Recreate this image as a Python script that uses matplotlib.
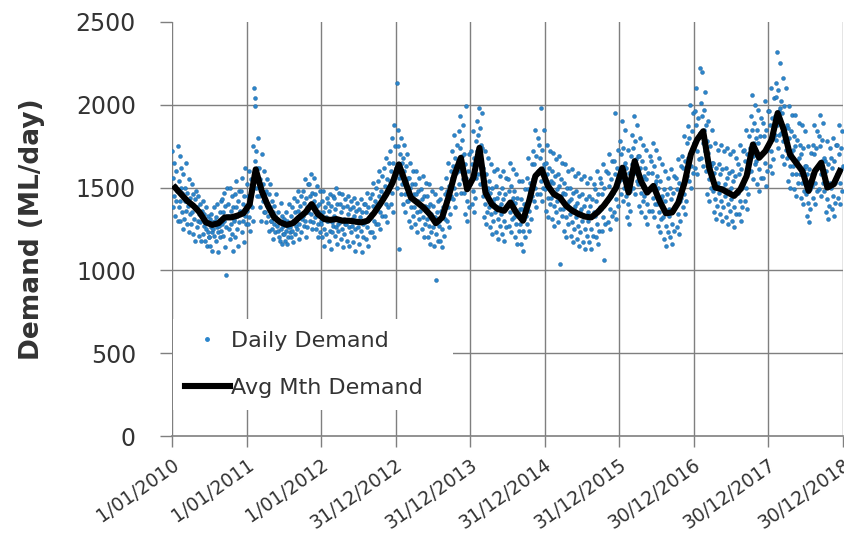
import calendar
import datetime as dt
import matplotlib
matplotlib.use("Agg")
import matplotlib.pyplot as plt
from matplotlib.lines import Line2D

plt.rcParams['font.family'] = ['DejaVu Sans']

# ---------------- data ----------------
start_year = 2010

# Average monthly demand (ML/day), Jan 2010 .. Dec 2018
monthly_avg = [
    1500, 1460, 1420, 1390, 1350, 1290, 1275, 1285, 1320, 1320, 1330, 1345,   # 2010
    1400, 1610, 1480, 1390, 1320, 1290, 1275, 1285, 1320, 1350, 1400, 1340,   # 2011
    1310, 1305, 1310, 1300, 1300, 1295, 1290, 1300, 1345, 1400, 1460, 1530,   # 2012
    1640, 1540, 1440, 1410, 1380, 1340, 1285, 1320, 1440, 1580, 1680, 1490,   # 2013
    1560, 1740, 1470, 1400, 1370, 1360, 1410, 1345, 1300, 1420, 1570, 1610,   # 2014
    1510, 1460, 1440, 1390, 1360, 1340, 1325, 1320, 1350, 1390, 1440, 1500,   # 2015
    1620, 1470, 1660, 1540, 1470, 1510, 1420, 1345, 1350, 1410, 1530, 1700,   # 2016
    1790, 1840, 1620, 1500, 1490, 1470, 1450, 1490, 1570, 1760, 1680, 1720,   # 2017
    1790, 1950, 1850, 1700, 1650, 1600, 1480, 1600, 1650, 1500, 1520, 1600,   # 2018
]

# Daily demand samples (12 readings per month, spread through the month)
daily_2010 = [
    1720, 1380, 1560, 1450, 1650, 1330, 1510, 1600, 1420, 1480, 1750, 1300,
    1540, 1380, 1690, 1420, 1300, 1500, 1620, 1350, 1470, 1250, 1580, 1440,
    1310, 1500, 1420, 1650, 1360, 1280, 1470, 1390, 1550, 1230, 1440, 1340,
    1400, 1280, 1520, 1350, 1460, 1220, 1390, 1310, 1430, 1180, 1370, 1480,
    1260, 1380, 1300, 1450, 1210, 1340, 1400, 1290, 1180, 1360, 1320, 1420,
    1220, 1340, 1270, 1180, 1310, 1250, 1380, 1150, 1290, 1230, 1330, 1200,
    1200, 1310, 1150, 1260, 1340, 1230, 1120, 1290, 1250, 1380, 1210, 1300,
    1320, 1180, 1260, 1400, 1230, 1110, 1300, 1270, 1350, 1200, 1420, 1240,
    1280, 1430, 1350, 1210, 1470, 1300, 1140, 1390, 1260, 970, 1330, 1500,
    1400, 1250, 1330, 1500, 1190, 1360, 1280, 1450, 1220, 1380, 1120, 1310,
    1300, 1460, 1200, 1380, 1540, 1250, 1330, 1420, 1150, 1290, 1480, 1360,
    1350, 1480, 1230, 1560, 1300, 1400, 1170, 1450, 1330, 1620, 1280, 1380,
]
daily_2011 = [
    1360, 1520, 1280, 1450, 1600, 1320, 1400, 1240, 1550, 1380, 1480, 1300,
    1750, 2100, 1580, 2040, 1660, 1990, 1500, 1720, 1620, 1450, 1800, 1560,
    1450, 1620, 1380, 1550, 1300, 1480, 1700, 1420, 1520, 1350, 1600, 1470,
    1350, 1480, 1290, 1410, 1550, 1330, 1400, 1240, 1460, 1380, 1520, 1300,
    1300, 1250, 1420, 1350, 1190, 1280, 1390, 1330, 1230, 1460, 1310, 1270,
    1240, 1350, 1200, 1300, 1180, 1290, 1410, 1250, 1160, 1330, 1270, 1220,
    1220, 1310, 1180, 1280, 1350, 1240, 1160, 1300, 1260, 1200, 1400, 1230,
    1260, 1330, 1200, 1380, 1240, 1300, 1170, 1290, 1440, 1220, 1350, 1270,
    1300, 1420, 1250, 1360, 1480, 1280, 1190, 1390, 1330, 1230, 1450, 1310,
    1330, 1480, 1270, 1410, 1550, 1300, 1200, 1440, 1380, 1260, 1520, 1350,
    1380, 1520, 1300, 1450, 1580, 1340, 1250, 1470, 1400, 1290, 1560, 1420,
    1320, 1460, 1250, 1390, 1510, 1280, 1200, 1400, 1350, 1230, 1480, 1300,
]
daily_2012 = [
    1280, 1420, 1200, 1350, 1480, 1250, 1150, 1380, 1320, 1220, 1440, 1300,
    1300, 1410, 1180, 1360, 1460, 1240, 1130, 1390, 1290, 1230, 1450, 1270,
    1330, 1440, 1210, 1370, 1500, 1260, 1160, 1400, 1280, 1240, 1470, 1310,
    1290, 1400, 1190, 1350, 1460, 1250, 1140, 1380, 1310, 1220, 1430, 1280,
    1280, 1390, 1180, 1340, 1450, 1260, 1150, 1370, 1300, 1230, 1420, 1310,
    1270, 1380, 1170, 1330, 1440, 1250, 1120, 1360, 1290, 1210, 1410, 1300,
    1260, 1370, 1160, 1320, 1430, 1240, 1110, 1350, 1280, 1200, 1400, 1290,
    1290, 1400, 1190, 1350, 1470, 1260, 1150, 1380, 1310, 1230, 1440, 1320,
    1340, 1460, 1230, 1390, 1530, 1300, 1200, 1420, 1360, 1280, 1500, 1370,
    1400, 1540, 1280, 1450, 1600, 1350, 1250, 1480, 1420, 1330, 1570, 1430,
    1460, 1620, 1330, 1510, 1680, 1400, 1290, 1550, 1480, 1380, 1650, 1490,
    1540, 1720, 1400, 1600, 1800, 1470, 1350, 1650, 1560, 1880, 1750, 1590,
]
daily_2013 = [
    1620, 2130, 1500, 1750, 1850, 1560, 1130, 1700, 1580, 1460, 1800, 1650,
    1520, 1680, 1400, 1600, 1760, 1460, 1350, 1630, 1540, 1420, 1700, 1560,
    1420, 1560, 1300, 1500, 1650, 1380, 1260, 1520, 1440, 1330, 1600, 1460,
    1380, 1520, 1280, 1460, 1600, 1350, 1230, 1480, 1420, 1310, 1560, 1400,
    1360, 1490, 1250, 1430, 1570, 1320, 1200, 1450, 1390, 1280, 1530, 1380,
    1310, 1450, 1200, 1380, 1520, 1270, 1160, 1400, 1340, 1230, 1480, 1330,
    1260, 1390, 1150, 1320, 1460, 1220, 940, 1350, 1290, 1180, 1420, 1270,
    1300, 1430, 1180, 1360, 1500, 1250, 1140, 1380, 1320, 1210, 1460, 1310,
    1420, 1560, 1300, 1480, 1650, 1380, 1260, 1510, 1440, 1340, 1600, 1450,
    1560, 1720, 1430, 1630, 1820, 1500, 1380, 1680, 1590, 1460, 1760, 1600,
    1660, 1840, 1520, 1740, 1930, 1600, 1470, 1790, 1690, 1550, 1880, 1700,
    1470, 1640, 1340, 1560, 1990, 1420, 1300, 1600, 1500, 1380, 1700, 1520,
]
daily_2014 = [
    1540, 1720, 1400, 1640, 1840, 1480, 1350, 1680, 1580, 1440, 1780, 1560,
    1720, 1900, 1580, 1820, 1980, 1660, 1520, 1860, 1760, 1620, 1950, 1740,
    1450, 1620, 1320, 1540, 1720, 1400, 1280, 1580, 1480, 1350, 1680, 1500,
    1380, 1540, 1260, 1470, 1640, 1340, 1220, 1500, 1410, 1300, 1600, 1430,
    1350, 1510, 1230, 1440, 1610, 1310, 1190, 1470, 1380, 1270, 1570, 1400,
    1340, 1500, 1220, 1430, 1600, 1300, 1180, 1460, 1370, 1260, 1560, 1390,
    1390, 1550, 1270, 1480, 1650, 1350, 1230, 1510, 1420, 1310, 1610, 1440,
    1320, 1480, 1200, 1410, 1580, 1280, 1160, 1440, 1350, 1240, 1540, 1370,
    1280, 1430, 1160, 1370, 1540, 1240, 1120, 1400, 1310, 1200, 1490, 1330,
    1400, 1560, 1280, 1490, 1680, 1360, 1240, 1530, 1430, 1310, 1640, 1450,
    1550, 1720, 1420, 1640, 1850, 1500, 1380, 1690, 1580, 1460, 1800, 1600,
    1590, 1760, 1460, 1680, 1980, 1540, 1420, 1730, 1620, 1500, 1850, 1640,
]
daily_2015 = [
    1490, 1650, 1360, 1580, 1760, 1440, 1320, 1620, 1520, 1400, 1720, 1540,
    1440, 1600, 1310, 1530, 1710, 1390, 1270, 1570, 1470, 1350, 1670, 1490,
    1420, 1580, 1290, 1510, 1690, 1370, 1040, 1550, 1450, 1330, 1650, 1470,
    1370, 1530, 1240, 1460, 1640, 1320, 1200, 1500, 1400, 1280, 1600, 1420,
    1340, 1500, 1210, 1430, 1610, 1290, 1170, 1470, 1370, 1250, 1570, 1390,
    1320, 1480, 1190, 1410, 1590, 1270, 1150, 1450, 1350, 1230, 1550, 1370,
    1300, 1460, 1170, 1390, 1570, 1250, 1130, 1430, 1330, 1210, 1530, 1350,
    1300, 1450, 1170, 1390, 1560, 1250, 1130, 1430, 1330, 1210, 1520, 1350,
    1330, 1490, 1200, 1420, 1600, 1280, 1160, 1460, 1360, 1240, 1560, 1380,
    1370, 1530, 1240, 1460, 1640, 1320, 1060, 1500, 1400, 1280, 1600, 1420,
    1420, 1590, 1290, 1510, 1700, 1370, 1250, 1550, 1450, 1330, 1660, 1470,
    1480, 1660, 1350, 1580, 1950, 1430, 1310, 1620, 1510, 1390, 1730, 1540,
]
daily_2016 = [
    1600, 1780, 1460, 1700, 1900, 1550, 1420, 1740, 1630, 1500, 1850, 1650,
    1450, 1620, 1320, 1550, 1730, 1400, 1280, 1590, 1480, 1360, 1690, 1500,
    1640, 1820, 1500, 1740, 1930, 1590, 1460, 1780, 1670, 1540, 1880, 1690,
    1520, 1690, 1390, 1620, 1800, 1470, 1350, 1660, 1550, 1420, 1760, 1570,
    1450, 1620, 1320, 1550, 1730, 1400, 1280, 1590, 1480, 1360, 1690, 1500,
    1490, 1660, 1360, 1590, 1770, 1440, 1320, 1630, 1520, 1400, 1730, 1540,
    1400, 1570, 1270, 1500, 1680, 1350, 1230, 1540, 1430, 1310, 1640, 1450,
    1320, 1490, 1190, 1420, 1600, 1270, 1150, 1460, 1350, 1230, 1560, 1370,
    1330, 1500, 1200, 1430, 1610, 1280, 1160, 1470, 1360, 1240, 1570, 1380,
    1390, 1560, 1260, 1490, 1670, 1340, 1220, 1530, 1420, 1300, 1630, 1440,
    1510, 1690, 1380, 1620, 1810, 1460, 1340, 1660, 1550, 1420, 1770, 1570,
    1680, 1870, 1540, 1800, 2000, 1630, 1500, 1840, 1720, 1590, 1950, 1740,
]
daily_2017 = [
    1770, 1960, 1620, 1880, 2100, 1720, 1580, 1920, 1800, 1670, 2220, 1830,
    1820, 2010, 1680, 1930, 2200, 1770, 1630, 1970, 1850, 1720, 2080, 1880,
    1600, 1780, 1460, 1710, 1900, 1550, 1420, 1750, 1630, 1500, 1850, 1650,
    1480, 1650, 1350, 1590, 1770, 1430, 1310, 1620, 1510, 1390, 1730, 1530,
    1470, 1640, 1340, 1580, 1760, 1420, 1300, 1610, 1500, 1380, 1720, 1520,
    1450, 1620, 1320, 1560, 1740, 1400, 1280, 1590, 1480, 1360, 1700, 1500,
    1430, 1600, 1300, 1540, 1720, 1380, 1260, 1570, 1460, 1340, 1680, 1480,
    1470, 1640, 1340, 1580, 1760, 1420, 1300, 1610, 1500, 1380, 1720, 1520,
    1550, 1730, 1420, 1660, 1850, 1500, 1370, 1700, 1590, 1460, 1810, 1600,
    1740, 1930, 1600, 1850, 2060, 1690, 1550, 1890, 1770, 1640, 2000, 1800,
    1660, 1850, 1520, 1770, 1970, 1610, 1480, 1810, 1690, 1560, 1920, 1710,
    1700, 1890, 1560, 1810, 2020, 1650, 1510, 1850, 1730, 1600, 1960, 1750,
]
daily_2018 = [
    1770, 1960, 1630, 1880, 2100, 1720, 1590, 1920, 1800, 1670, 2040, 1820,
    1930, 2130, 1790, 2050, 2320, 1880, 1740, 2090, 1960, 1820, 2250, 1980,
    1830, 2020, 1690, 1950, 2160, 1780, 1640, 1990, 1860, 1730, 2100, 1880,
    1680, 1860, 1540, 1800, 1990, 1630, 1500, 1840, 1710, 1580, 1940, 1730,
    1630, 1810, 1490, 1750, 1940, 1580, 1450, 1790, 1660, 1530, 1890, 1680,
    1580, 1760, 1440, 1700, 1880, 1530, 1400, 1740, 1610, 1480, 1840, 1630,
    1460, 1630, 1330, 1580, 1750, 1410, 1290, 1610, 1490, 1370, 1710, 1510,
    1580, 1760, 1440, 1700, 1880, 1530, 1400, 1740, 1610, 1480, 1840, 1630,
    1630, 1810, 1490, 1750, 1940, 1580, 1450, 1790, 1660, 1530, 1890, 1680,
    1480, 1660, 1350, 1600, 1780, 1430, 1310, 1640, 1510, 1390, 1740, 1530,
    1500, 1680, 1370, 1620, 1800, 1450, 1330, 1660, 1530, 1410, 1760, 1550,
    1580, 1760, 1440, 1700, 1880, 1530, 1400, 1740, 1610, 1480, 1840, 1630,
]
daily_by_year = [daily_2010, daily_2011, daily_2012, daily_2013, daily_2014,
                 daily_2015, daily_2016, daily_2017, daily_2018]

tick_dates = ["2010-01-01", "2011-01-01", "2012-01-01", "2012-12-31", "2013-12-31",
              "2014-12-31", "2015-12-31", "2016-12-30", "2017-12-30", "2018-12-30"]
tick_labels = ["1/01/2010", "1/01/2011", "1/01/2012", "31/12/2012", "31/12/2013",
               "31/12/2014", "31/12/2015", "30/12/2016", "30/12/2017", "30/12/2018"]
y_ticks = [0, 500, 1000, 1500, 2000, 2500]

# ---------------- build x positions ----------------
samples_per_month = 12
daily_x, daily_y = [], []
month_x = []
for yi, vals in enumerate(daily_by_year):
    year = start_year + yi
    for m in range(12):
        ndays = calendar.monthrange(year, m + 1)[1]
        m0 = dt.datetime(year, m + 1, 1)
        month_x.append(m0 + dt.timedelta(days=ndays / 2))
        for i in range(samples_per_month):
            daily_x.append(m0 + dt.timedelta(days=(i + 0.5) * ndays / samples_per_month))
            daily_y.append(vals[m * samples_per_month + i])

# ---------------- plot ----------------
W, H = 845, 533
fig = plt.figure(figsize=(W / 100, H / 100), dpi=100)
ax = fig.add_axes([172 / W, 1 - 436 / H, (843 - 172) / W, (436 - 22) / H])

grid_c = "#7f7f7f"
text_c = "#333333"

ax.scatter(daily_x, daily_y, s=8, color="#2a85cc", edgecolors="#1d5f96",
           linewidths=0.3, zorder=3, label="Daily Demand")
ax.plot(month_x, monthly_avg, color="black", lw=4.4, zorder=4,
        solid_joinstyle="round", label="Avg Mth Demand")

ax.set_xlim(dt.datetime(2010, 1, 1), dt.datetime(2019, 1, 1))
ax.set_ylim(0, 2500)

xt = [dt.datetime.strptime(d, "%Y-%m-%d") for d in tick_dates]
ax.set_xticks(xt)
ax.set_xticklabels(tick_labels, rotation=35, ha="right", va="top",
                   rotation_mode="anchor", fontsize=13.5, color=text_c)
ax.set_yticks(y_ticks)
ax.set_yticklabels([str(v) for v in y_ticks], fontsize=17, color=text_c)

ax.tick_params(axis="x", length=8, width=1, color=grid_c, pad=6)
ax.tick_params(axis="y", length=9, width=1, color=grid_c, pad=17)

for sp in ["top", "right", "left"]:
    ax.spines[sp].set_visible(False)
ax.spines["bottom"].set_color(grid_c)
ax.spines["bottom"].set_linewidth(1.2)

# grid lines
for v in y_ticks[1:-1]:
    ax.axhline(v, color=grid_c, lw=1.0, zorder=1)
for d in xt:
    ax.axvline(d, color=grid_c, lw=1.0, zorder=1)

ax.set_ylabel("Demand (ML/day)", fontsize=19, fontweight="bold", color=text_c)
ax.yaxis.set_label_coords(-0.19, 0.5)

# legend (white box covering grid)
handles = [
    Line2D([], [], marker="o", ls="none", color="#2a85cc", markersize=2.5),
    Line2D([], [], color="black", lw=4.4),
]
leg = ax.legend(handles, ["Daily Demand", "Avg Mth Demand"], loc="lower left",
                bbox_to_anchor=(0.0015, 0.063, 0.4175, 0.237), mode="expand",
                frameon=True, fancybox=False, fontsize=16, handlelength=2.0,
                handletextpad=0.05, borderpad=0.55, labelspacing=1.2,
                borderaxespad=0.0)
leg.get_frame().set_facecolor("white")
leg.get_frame().set_edgecolor("none")
leg.get_frame().set_alpha(1.0)
leg.set_zorder(5)
for t in leg.get_texts():
    t.set_color(text_c)

fig.savefig("out.png", dpi=100)
